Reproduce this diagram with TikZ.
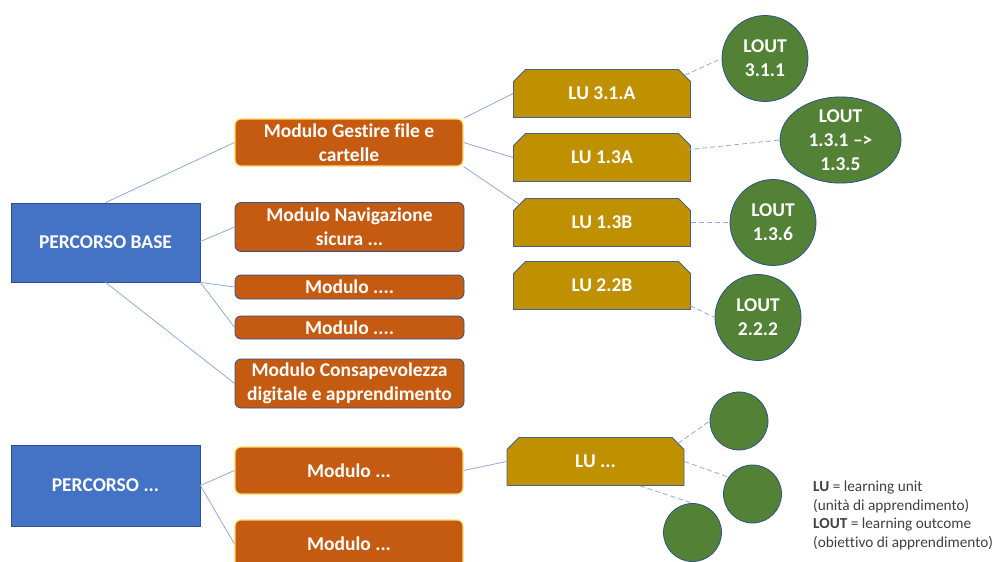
\documentclass[tikz,border=0pt]{standalone}
\usepackage{fontspec}
\setmainfont{Carlito}[Ligatures=NoCommon]
\usetikzlibrary{shapes.misc,shapes.geometric,calc}
\definecolor{pblue}{HTML}{4472C4}
\definecolor{edgeblue}{HTML}{2F528F}
\definecolor{morange}{HTML}{C55A11}
\definecolor{lgold}{HTML}{BF9000}
\definecolor{lgreen}{HTML}{538135}
\definecolor{conn}{HTML}{8FAADC}
\definecolor{glow}{HTML}{FFD966}
\definecolor{legendgray}{HTML}{404040}
\tikzset{
  boxtext/.style={text=white,font=\fontsize{19.5}{24}\selectfont\bfseries,align=center,inner sep=0pt},
  percorso/.style={boxtext,rectangle,fill=pblue,draw=edgeblue,line width=0.8pt,minimum width=189pt},
  modbox/.style={boxtext,rectangle,rounded corners=6pt,fill=morange,draw=edgeblue,line width=0.8pt,minimum width=229pt},
  modglow/.style={modbox,draw=glow,line width=1.2pt},
  lubox/.style={boxtext,chamfered rectangle,chamfered rectangle corners={north east,north west},chamfered rectangle xsep=6pt,chamfered rectangle ysep=6pt,fill=lgold,draw=edgeblue!70!gray,line width=0.8pt,minimum width=177pt,minimum height=48pt},
  lout/.style={boxtext,circle,fill=lgreen,draw=edgeblue,line width=0.8pt,minimum size=86pt},
  loutsmall/.style={circle,fill=lgreen,draw=edgeblue,line width=0.8pt,minimum size=58pt,inner sep=0pt},
  solidconn/.style={draw=conn,line width=0.8pt},
  dashconn/.style={draw=conn,line width=0.8pt,dash pattern=on 5pt off 3pt},
}
\begin{document}
\begin{tikzpicture}[x=1pt,y=-1pt]
\useasboundingbox (0,0) rectangle (994,562);
% left column
\node[percorso,minimum height=79pt] (pb) at (105.5,242.5) {PERCORSO BASE};
\node[percorso,minimum height=81pt] (pb2) at (105.5,485.5) {PERCORSO ...};
% modules
\node[modglow,minimum height=47pt,minimum width=228pt] (gest) at (349,142.5) {Modulo Gestire file e\\cartelle};
\node[modbox,minimum height=49pt] (nav) at (349.5,227) {Modulo Navigazione\\sicura ...};
\node[modbox,minimum height=24pt] (m1) at (349.5,287) {Modulo ....};
\node[modbox,minimum height=23pt] (m2) at (349.5,327.5) {Modulo ....};
\node[modbox,minimum height=49pt] (cons) at (349.5,383.5) {Modulo Consapevolezza\\digitale e apprendimento};
\node[modglow,minimum height=47pt,minimum width=228pt] (mb1) at (349,470.5) {Modulo ...};
\node[modglow,minimum height=48pt,minimum width=228pt] (mb2) at (349,544) {Modulo ...};
% learning units
\node[lubox] (lu1) at (602,93.5) {LU 3.1.A};
\node[lubox] (lu2) at (602,157.5) {LU 1.3A};
\node[lubox] (lu3) at (602,222.5) {LU 1.3B};
\node[lubox] (lu4) at (602,285.5) {LU 2.2B};
\node[lubox] (lu5) at (595.5,461.5) {LU ...};
% learning outcomes
\node[lout] (o1) at (765,58.5) {LOUT\\3.1.1};
\node[boxtext,ellipse,fill=lgreen,draw=edgeblue,line width=0.8pt,minimum width=121pt,minimum height=86pt] (o2) at (840.5,140) {LOUT\\1.3.1 --{>}\\1.3.5};
\node[lout] (o3) at (773,222.5) {LOUT\\1.3.6};
\node[lout] (o4) at (758,317.5) {LOUT\\2.2.2};
\node[loutsmall] (c1) at (739,421) {};
\node[loutsmall] (c2) at (752.5,494) {};
\node[loutsmall] (c3) at (692.5,532.5) {};
% legend
\node[anchor=north west,align=left,inner sep=0pt,text=legendgray,font=\fontsize{15.3}{18.5}\selectfont] (legend) at (813,481)
  {\textbf{LU} = learning unit\\(unità di apprendimento)\\\textbf{LOUT} = learning outcome\\(obiettivo di apprendimento)};
% connectors
\path[solidconn] (pb.north) -- (gest.west);
\path[solidconn] (pb.east) ++(0,-1) -- (nav.west);
\path[solidconn] (pb.south east) -- (m1.west);
\path[solidconn] (pb.south east) -- (m2.west);
\path[solidconn] (pb.south) -- (cons.west);
\path[solidconn] (pb2.east) -- (mb1.west);
\path[solidconn] (pb2.east) -- (mb2.west);
\path[solidconn] (gest.north east) -- (lu1.west);
\path[solidconn] (gest.east) -- (lu2.west);
\path[solidconn] (gest.south east) -- (lu3.north west);
\path[solidconn] (mb1.east) -- (lu5.west);
\path[dashconn] (lu1.north east) -- (o1.west);
\path[dashconn] ($(lu2.north east)!0.25!(lu2.south east)$) -- (o2.west);
\path[dashconn] (lu3.east) -- (o3.west);
\path[dashconn] ($(lu4.north east)!0.9!(lu4.south east)$) -- (o4.west);
\path[dashconn] (lu5.north east) -- (c1.west);
\path[dashconn] (lu5.east) -- (c2.145);
\path[dashconn] ($(lu5.south)!0.5!(lu5.south east)$) -- (c3.north);
\end{tikzpicture}
\end{document}
